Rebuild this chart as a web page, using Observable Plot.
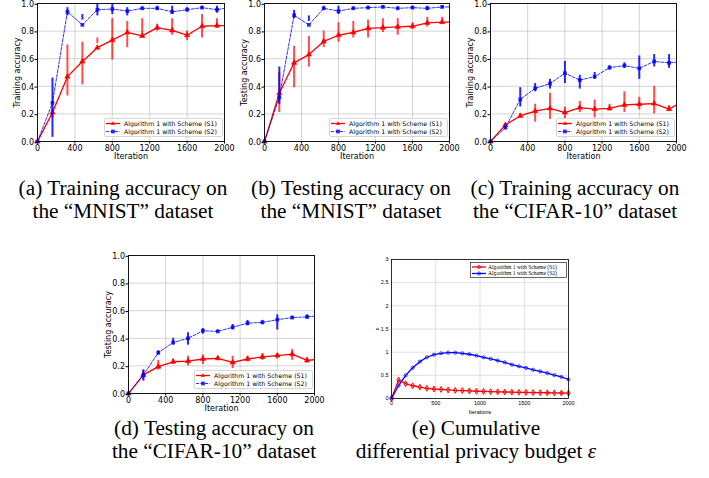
<!DOCTYPE html>
<html><head><meta charset="utf-8">
<script src="https://cdn.jsdelivr.net/npm/d3@7"></script>
<script src="https://cdn.jsdelivr.net/npm/@observablehq/plot@0.6"></script>
<style>
body{margin:0;background:#fff;width:709px;height:478px;position:relative;overflow:hidden;}
.panel{position:absolute;}
.cap{position:absolute;width:300px;font-family:"Liberation Serif","Times New Roman",serif;font-size:21.3px;line-height:23px;text-align:center;white-space:nowrap;color:#000;}
.leg{position:absolute;}
</style></head><body>
<script>
// ---------- data ----------
const iters = [0,160,320,480,640,800,960,1120,1280,1440,1600,1760,1920,2000];
const accTicksX = [0,400,800,1200,1600,2000];
const accTicksY = [0,0.2,0.4,0.6,0.8,1.0];
const seriesNames = ["Algorithm 1 with Scheme (S1)","Algorithm 1 with Scheme (S2)"];

// (a) training accuracy MNIST
const aS1 = [0,0.21,0.47,0.58,0.68,0.735,0.79,0.765,0.825,0.805,0.77,0.835,0.84,0.84];
const aS1Err = [null,[0.17,0.25],[0.33,0.70],[0.41,0.72],[0.71,0.75],[0.59,0.89],[0.68,0.87],[0.75,0.89],[0.80,0.85],[0.77,0.89],[0.73,0.80],[0.75,0.92],[0.82,0.89],null];
const aS2 = [0,0.28,0.94,0.845,0.955,0.96,0.945,0.965,0.965,0.94,0.955,0.97,0.955,0.965];
const aS2Err = [null,[0.03,0.46],[0.91,0.97],[0.88,0.92],[0.91,1.0],[0.92,1.0],[0.91,0.97],[0.955,0.975],[0.95,0.98],[0.92,0.98],[0.94,0.97],[0.96,0.98],[0.93,0.98],null];

// (b) testing accuracy MNIST
const bS1 = [0,0.35,0.57,0.63,0.725,0.77,0.79,0.82,0.825,0.83,0.835,0.86,0.865,0.865];
const bS1Err = [null,[0.21,0.50],[0.39,0.69],[0.54,0.76],[0.68,0.80],[0.72,0.86],[0.75,0.87],[0.75,0.88],[0.79,0.89],[0.77,0.89],[0.81,0.86],[0.83,0.90],[0.85,0.90],null];
const bS2 = [0,0.32,0.915,0.845,0.965,0.945,0.965,0.97,0.975,0.965,0.97,0.965,0.975,0.975];
const bS2Err = [null,[0.27,0.54],[0.89,0.95],[0.87,0.91],[0.955,0.98],[0.92,0.98],[0.955,0.975],[0.96,0.98],[0.965,0.985],[0.955,0.975],[0.96,0.98],[0.95,0.98],[0.965,0.985],null];

// (c) training accuracy CIFAR-10
const cS1 = [0,0.12,0.185,0.22,0.24,0.21,0.245,0.235,0.24,0.265,0.27,0.275,0.235,0.265];
const cS1Err = [null,[0.11,0.13],[0.175,0.20],[0.14,0.27],[0.16,0.35],[0.16,0.25],[0.21,0.29],[0.17,0.30],[0.22,0.27],[0.21,0.36],[0.23,0.32],[0.20,0.40],[0.22,0.26],null];
const cS2 = [0,0.10,0.305,0.385,0.42,0.495,0.445,0.47,0.535,0.55,0.53,0.58,0.57,0.575];
const cS2Err = [null,[0.09,0.12],[0.25,0.39],[0.36,0.42],[0.38,0.45],[0.42,0.58],[0.38,0.48],[0.45,0.50],[0.52,0.55],[0.53,0.57],[0.45,0.62],[0.54,0.63],[0.53,0.63],null];

// (d) testing accuracy CIFAR-10
const dS1 = [0,0.135,0.195,0.23,0.235,0.25,0.255,0.225,0.25,0.265,0.275,0.285,0.24,0.245];
const dS1Err = [null,[0.10,0.17],[0.17,0.24],[0.21,0.25],[0.20,0.27],[0.21,0.28],[0.24,0.27],[0.18,0.27],[0.23,0.27],[0.24,0.29],[0.25,0.29],[0.24,0.32],[0.22,0.26],null];
const dS2 = [0,0.135,0.295,0.37,0.40,0.455,0.45,0.48,0.51,0.515,0.535,0.55,0.555,0.56];
const dS2Err = [null,[0.09,0.17],[0.28,0.31],[0.35,0.40],[0.35,0.44],[0.43,0.47],[0.44,0.46],[0.46,0.50],[0.49,0.53],[0.50,0.53],[0.46,0.57],[0.54,0.56],[0.54,0.57],null];

// (e) cumulative privacy budget
const itersE = [0,80,160,240,320,400,480,560,640,720,800,880,960,1040,1120,1200,1280,1360,1440,1520,1600,1680,1760,1840,1920,2000];
const eS1 = [0,0.40,0.32,0.275,0.245,0.22,0.205,0.195,0.185,0.175,0.17,0.163,0.157,0.152,0.148,0.144,0.14,0.137,0.134,0.131,0.128,0.126,0.124,0.121,0.119,0.117];
const eS2 = [0,0.28,0.50,0.665,0.795,0.89,0.945,0.975,0.99,0.99,0.975,0.955,0.925,0.89,0.855,0.82,0.78,0.73,0.695,0.66,0.62,0.585,0.55,0.505,0.465,0.41];
const eTicksX = [0,500,1000,1500,2000];
const eTicksY = [0,0.5,1,1.5,2,2.5,3];

// ---------- helpers ----------
function place(el, left, top){
  const d = document.createElement("div");
  d.className = "panel"; d.style.left = left+"px"; d.style.top = top+"px";
  d.appendChild(el); document.body.appendChild(d);
}

function accPanel(s1, s1e, s2, s2e, ylabel, left, top, w, h){
  const ML=37, MR=12, MT=4, MB=20;
  const d1 = iters.map((x,i)=>({x, y:s1[i], e:s1e[i], m: x<2000}));
  const d2 = iters.map((x,i)=>({x, y:s2[i], e:s2e[i], m: x<2000}));
  const p = Plot.plot({
    width: ML+w+MR, height: MT+h+MB,
    marginLeft:ML, marginRight:MR, marginTop:MT, marginBottom:MB,
    style:{fontFamily:"DejaVu Sans", fontSize:"8px", overflow:"visible", background:"transparent", color:"#000"},
    x:{domain:[0,2000]}, y:{domain:[0,1]},
    marks:[
      Plot.gridX({ticks:accTicksX, stroke:"#b0b0b0", strokeOpacity:0.55, strokeWidth:1}),
      Plot.gridY({ticks:accTicksY, stroke:"#b0b0b0", strokeOpacity:0.55, strokeWidth:1}),
      Plot.ruleX(d1.filter(d=>d.e), {x:"x", y1:d=>d.e[0], y2:d=>d.e[1], stroke:"red", strokeWidth:2, strokeOpacity:0.7}),
      Plot.line(d1, {x:"x", y:"y", stroke:"red", strokeWidth:1.3, clip:true}),
      Plot.dot(d1.filter(d=>d.m), {x:"x", y:"y", symbol:"triangle", r:2, fill:"red", stroke:"red", strokeWidth:0.5}),
      Plot.ruleX(d2.filter(d=>d.e), {x:"x", y1:d=>d.e[0], y2:d=>d.e[1], stroke:"blue", strokeWidth:2, strokeOpacity:0.85}),
      Plot.line(d2, {x:"x", y:"y", stroke:"blue", strokeWidth:1, strokeDasharray:"3,1.5", strokeOpacity:0.8, clip:true}),
      Plot.dot(d2.filter(d=>d.m), {x:"x", y:"y", symbol:"square", r:2.1, fill:"blue", fillOpacity:0.8}),
      Plot.frame({stroke:"#000", strokeWidth:0.9}),
      Plot.axisX({ticks:accTicksX, tickSize:2.5, tickPadding:1, label:null, tickFormat:d=>String(d)}),
      Plot.axisY({ticks:accTicksY, tickSize:2.5, tickPadding:1, label:null, tickFormat:d3.format(".1f"), dy:0.8}),
      Plot.text(["Iteration"], {frameAnchor:"bottom", lineAnchor:"middle", textAnchor:"middle", dy:15, fontSize:8}),
      Plot.text([ylabel], {frameAnchor:"left", lineAnchor:"middle", textAnchor:"middle", dx:-20, rotate:-90, fontSize:8})
    ]
  });
  place(p, left-ML, top-MT);
  // legend (lower right)
  const lw=119, lh=19;
  const lx = left+w-1.5-lw, ly = top+h-4-lh;
  const leg = document.createElement("div");
  leg.className="leg"; leg.style.left=lx+"px"; leg.style.top=ly+"px";
  leg.innerHTML = `<svg width="${lw}" height="${lh}" style="display:block">
    <rect x="0.5" y="0.5" width="${lw-1}" height="${lh-1}" rx="1.5" fill="#fff" fill-opacity="0.85" stroke="#cccccc" stroke-width="0.8"/>
    <line x1="2" x2="16" y1="5.5" y2="5.5" stroke="red" stroke-width="1.3"/>
    <path d="M9,3.3L11.1,6.8L6.9,6.8Z" fill="red"/>
    <text x="20" y="5.5" dy="0.35em" font-family="DejaVu Sans" font-size="6.2">${seriesNames[0]}</text>
    <line x1="2" x2="16" y1="13.5" y2="13.5" stroke="blue" stroke-width="1" stroke-dasharray="3,1.5" stroke-opacity="0.8"/>
    <rect x="7.1" y="11.6" width="3.8" height="3.8" fill="blue" fill-opacity="0.8"/>
    <text x="20" y="13.5" dy="0.35em" font-family="DejaVu Sans" font-size="6.2">${seriesNames[1]}</text>
  </svg>`;
  document.body.appendChild(leg);
}

accPanel(aS1,aS1Err,aS2,aS2Err,"Training accuracy",37,3,187,138);
accPanel(bS1,bS1Err,bS2,bS2Err,"Testing accuracy",264,3,185,138);
accPanel(cS1,cS1Err,cS2,cS2Err,"Training accuracy",490,3,186,138);
accPanel(dS1,dS1Err,dS2,dS2Err,"Testing accuracy",128,255,186,138);

// (e)
(function(){
  const ML=20, MR=10, MT=4, MB=20, left=391, top=259, w=177, h=139;
  const e1 = itersE.map((x,i)=>({x, y:eS1[i]}));
  const e2 = itersE.map((x,i)=>({x, y:eS2[i]}));
  const p = Plot.plot({
    width: ML+w+MR, height: MT+h+MB,
    marginLeft:ML, marginRight:MR, marginTop:MT, marginBottom:MB,
    style:{fontFamily:"Liberation Sans", fontSize:"5.5px", overflow:"visible", background:"transparent", color:"#000"},
    x:{domain:[0,2000]}, y:{domain:[0,3]},
    marks:[
      Plot.gridX({ticks:eTicksX, stroke:"#d8d8d8", strokeOpacity:1, strokeWidth:0.8}),
      Plot.gridY({ticks:eTicksY, stroke:"#d8d8d8", strokeOpacity:1, strokeWidth:0.8}),
      Plot.line(e1, {x:"x", y:"y", stroke:"red", strokeWidth:1.3}),
      Plot.dot(e1, {x:"x", y:"y", symbol:"diamond", r:1.8, stroke:"red", fill:"red", fillOpacity:0.35, strokeWidth:0.9}),
      Plot.line(e2, {x:"x", y:"y", stroke:"blue", strokeWidth:1.3}),
      Plot.dot(e2, {x:"x", y:"y", symbol:"circle", r:1.6, stroke:"blue", fill:"none", strokeWidth:0.7}),
      Plot.frame({stroke:"#000", strokeWidth:0.8}),
      Plot.axisX({ticks:eTicksX, tickSize:0, tickPadding:3, label:null, tickFormat:d=>String(d)}),
      Plot.axisY({ticks:eTicksY, tickSize:0, tickPadding:3, label:null, tickFormat:d=>String(d)}),
      Plot.text(["Iterations"], {frameAnchor:"bottom", lineAnchor:"middle", textAnchor:"middle", dy:14, fontSize:5.5}),
      Plot.text(["ε"], {frameAnchor:"left", lineAnchor:"middle", textAnchor:"middle", dx:-14, rotate:-90, fontSize:6})
    ]
  });
  place(p, left-ML, top-MT);
  const lw=97, lh=16, lx=470, ly=262;
  const leg = document.createElement("div");
  leg.className="leg"; leg.style.left=lx+"px"; leg.style.top=ly+"px";
  leg.innerHTML = `<svg width="${lw}" height="${lh}" style="display:block">
    <rect x="0.5" y="0.5" width="${lw-1}" height="${lh-1}" fill="#fff" stroke="#000" stroke-width="0.6"/>
    <line x1="2" x2="16" y1="5" y2="5" stroke="red" stroke-width="1.3"/>
    <path d="M9,3.2L10.8,5L9,6.8L7.2,5Z" fill="red" fill-opacity="0.35" stroke="red" stroke-width="0.9"/>
    <text x="18" y="5" dy="0.35em" font-family="Liberation Serif" font-size="5.6">${seriesNames[0]}</text>
    <line x1="2" x2="16" y1="11.5" y2="11.5" stroke="blue" stroke-width="1.3"/>
    <circle cx="9" cy="11.5" r="1.6" fill="none" stroke="blue" stroke-width="0.7"/>
    <text x="18" y="11.5" dy="0.35em" font-family="Liberation Serif" font-size="5.6">${seriesNames[1]}</text>
  </svg>`;
  document.body.appendChild(leg);
})();

// captions
const captions = [
  {c:123, t:177, html:"(a) Training accuracy on<br>the “MNIST” dataset"},
  {c:351, t:177, html:"(b) Testing accuracy on<br>the “MNIST” dataset"},
  {c:575, t:177, html:"(c) Training accuracy on<br>the “CIFAR-10” dataset"},
  {c:214, t:417, html:"(d) Testing accuracy on<br>the “CIFAR-10” dataset"},
  {c:476, t:417, html:"(e) Cumulative<br>differential privacy budget <i>ε</i>"}
];
for (const k of captions){
  const d = document.createElement("div");
  d.className="cap"; d.style.left=(k.c-150)+"px"; d.style.top=k.t+"px";
  d.innerHTML = k.html; document.body.appendChild(d);
}
</script>
</body></html>
